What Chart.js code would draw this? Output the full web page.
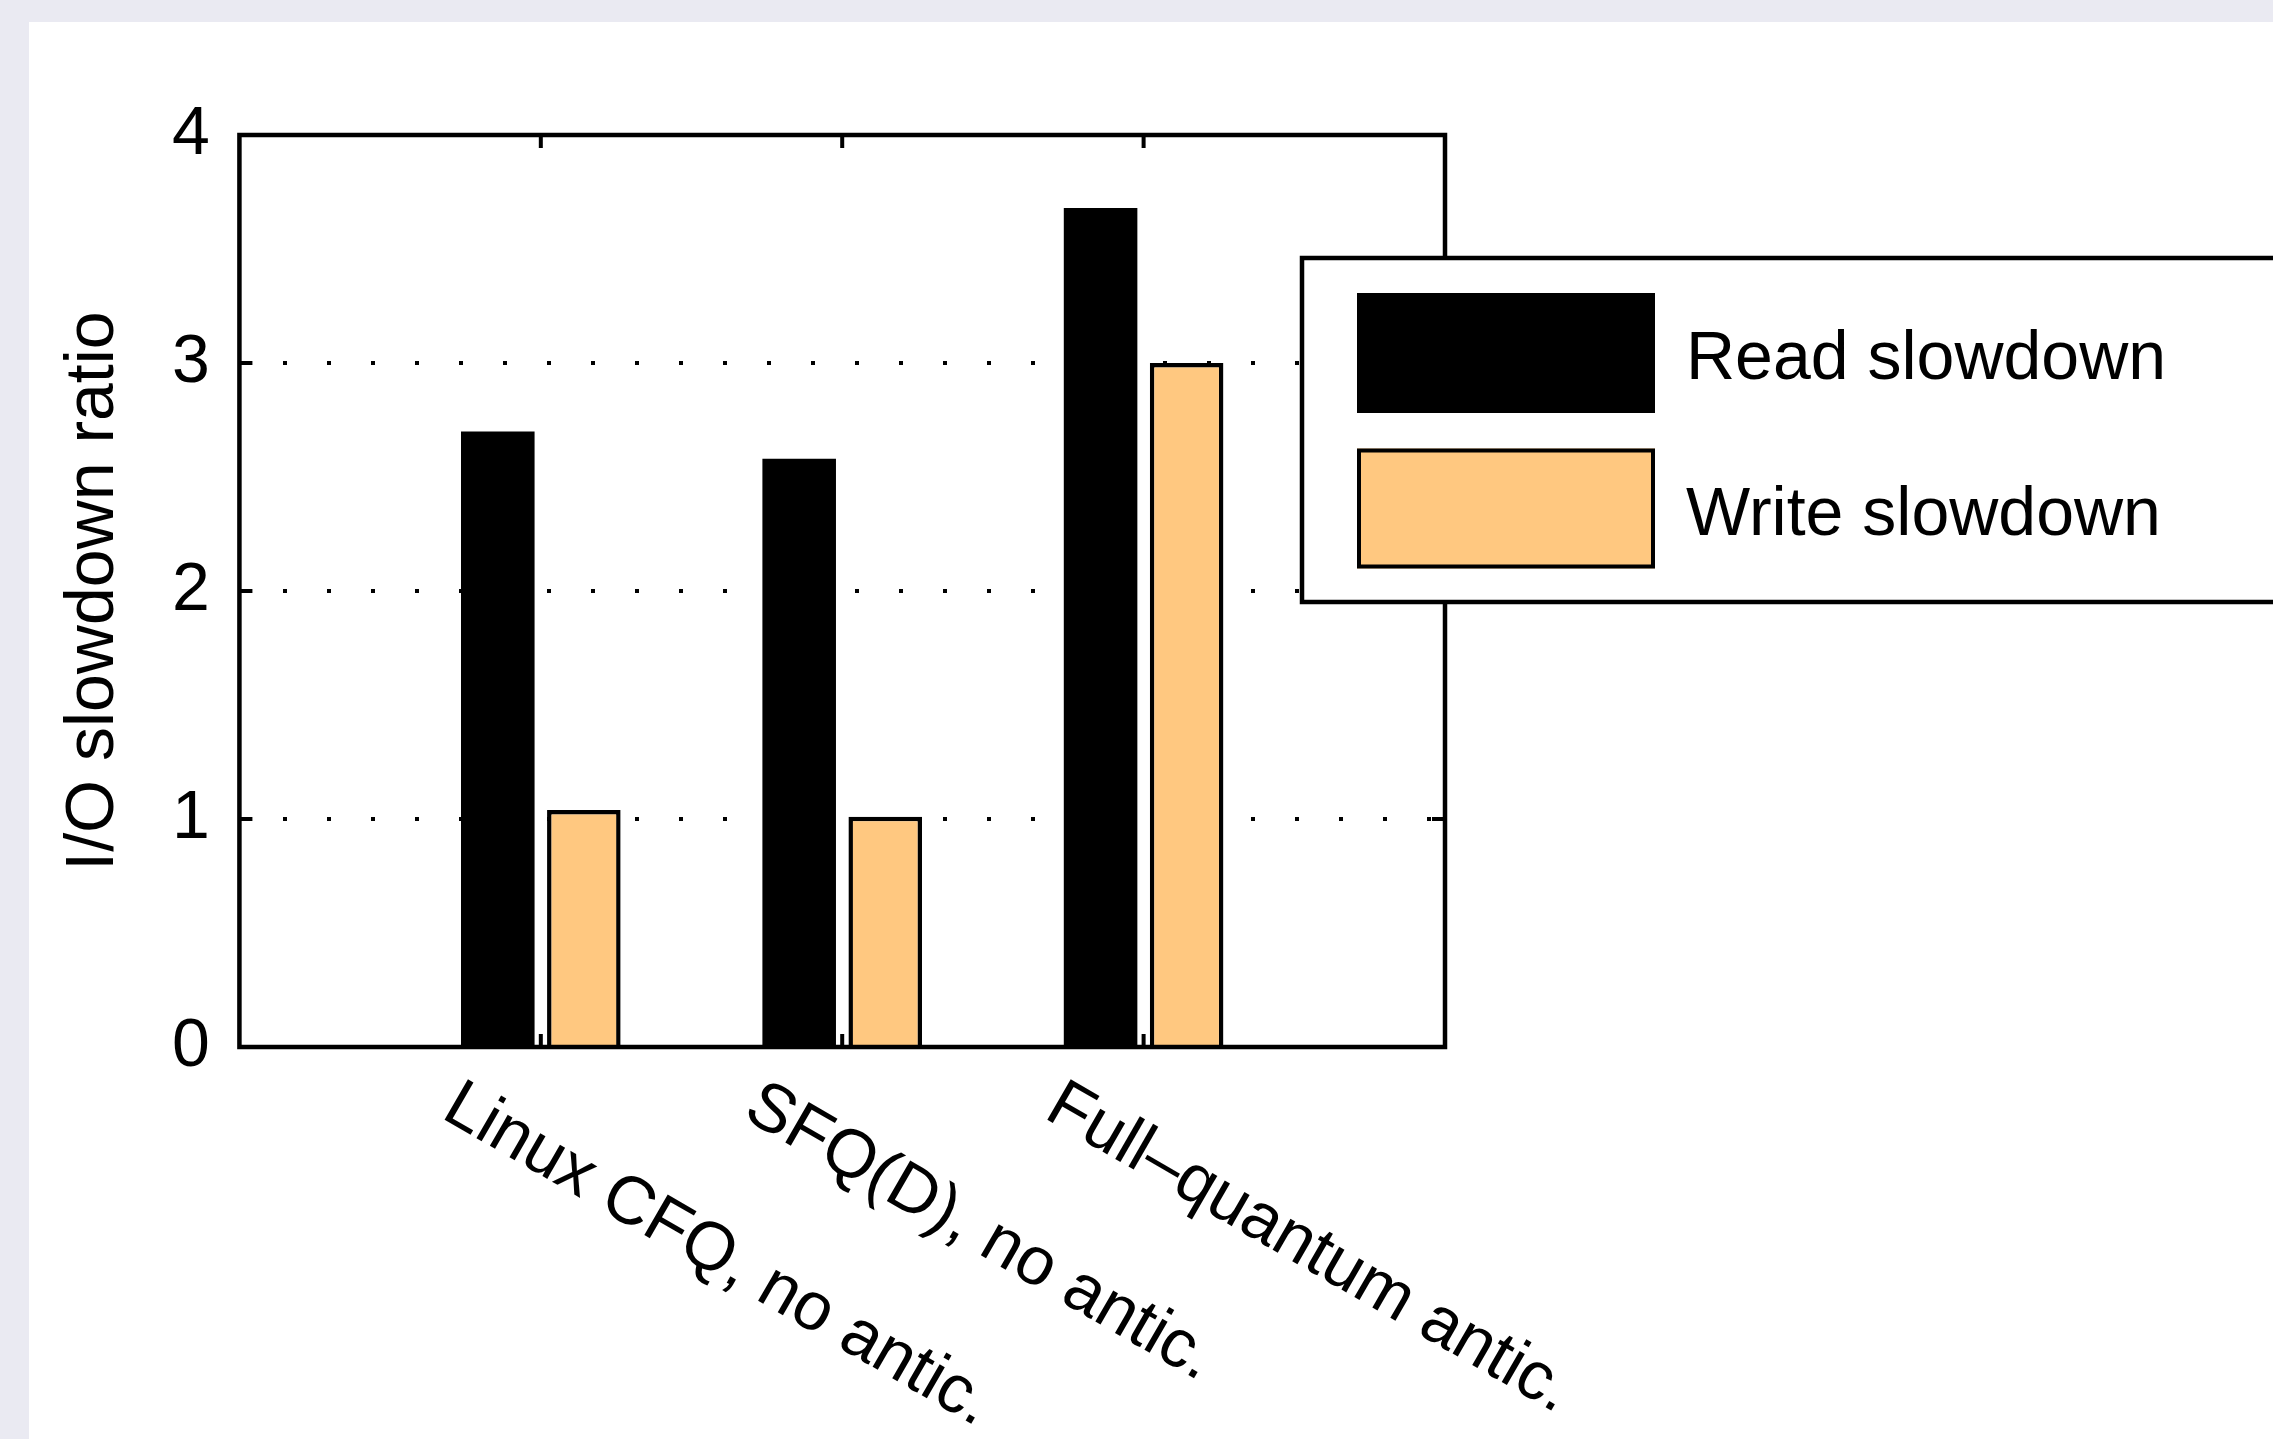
<!DOCTYPE html>
<html>
<head>
<meta charset="utf-8">
<script src="https://cdn.jsdelivr.net/npm/chart.js@4.4.0/dist/chart.umd.min.js"></script>
<style>
  html, body { margin: 0; padding: 0; overflow: hidden; background: #eaeaf2; }
  #wrap { width: 2273px; height: 1439px; }
</style>
</head>
<body>
<div id="wrap"><canvas id="grafica"></canvas></div>
<script>
const categories = ['Linux CFQ, no antic.', 'SFQ(D), no antic.', 'Full\u2013quantum antic.'];
const readSlowdown = [2.70, 2.58, 3.68];
const writeSlowdown = [1.04, 1.01, 3.00];
const yTicks = [0, 1, 2, 3, 4];

const fuente = '"Liberation Sans", Arial, Helvetica, sans-serif';
const ctx = document.getElementById('grafica').getContext('2d');

// fondo lila con el recuadro blanco
const fondo = {
    id: 'fondo',
    beforeDraw(chart) {
        const c = chart.ctx;
        c.save();
        c.fillStyle = '#eaeaf2';
        c.fillRect(0, 0, chart.width, chart.height);
        c.fillStyle = '#ffffff';
        c.fillRect(29, 22, chart.width - 29, chart.height - 22);
        c.restore();
    }
};

// caja del grafico, marcas hacia dentro y etiquetas giradas del eje x
const caja = {
    id: 'caja',
    afterDatasetsDraw(chart) {
        const { ctx, chartArea: a, scales: { x, y } } = chart;
        const largo = 13;
        ctx.save();
        ctx.strokeStyle = '#000';
        ctx.lineWidth = 4;
        ctx.beginPath();
        categories.forEach((c, i) => {
            const px = x.getPixelForValue(i + 1);
            ctx.moveTo(px, a.top);
            ctx.lineTo(px, a.top + largo);
            ctx.moveTo(px, a.bottom);
            ctx.lineTo(px, a.bottom - largo);
        });
        yTicks.forEach(v => {
            const py = y.getPixelForValue(v);
            ctx.moveTo(a.left, py);
            ctx.lineTo(a.left + largo, py);
            ctx.moveTo(a.right, py);
            ctx.lineTo(a.right - largo, py);
        });
        ctx.stroke();
        ctx.lineWidth = 4.5;
        ctx.strokeRect(a.left, a.top, a.right - a.left, a.bottom - a.top);

        ctx.fillStyle = '#000';
        ctx.font = '68px ' + fuente;
        ctx.textAlign = 'left';
        ctx.textBaseline = 'alphabetic';
        categories.forEach((c, i) => {
            const px = x.getPixelForValue(i + 1);
            ctx.save();
            ctx.translate(px - 101, a.bottom + 70);
            ctx.rotate(30 * Math.PI / 180);
            ctx.fillText(c, 0, 0);
            ctx.restore();
        });
        ctx.restore();
    }
};

// leyenda encima del grafico, se sale por la derecha
const leyenda = {
    id: 'leyenda',
    afterDraw(chart) {
        const c = chart.ctx;
        c.save();
        c.fillStyle = '#fff';
        c.strokeStyle = '#000';
        c.lineWidth = 4.5;
        c.fillRect(1302, 258, 1100, 344);
        c.strokeRect(1302, 258, 1100, 344);
        chart.data.datasets.forEach((ds, i) => {
            const top = 293 + i * 155.5;
            c.fillStyle = ds.backgroundColor;
            c.fillRect(1357, top, 298, 120);
            c.lineWidth = 4;
            c.strokeRect(1359, top + 2, 294, 116);
            c.fillStyle = '#000';
            c.font = '68px ' + fuente;
            c.textAlign = 'left';
            c.textBaseline = 'alphabetic';
            c.fillText(ds.label, 1686, top + 86);
        });
        c.restore();
    }
};

const config = {
    type: 'bar',
    data: {
        labels: ['', ...categories, ''],
        datasets: [
            {
                label: 'Read slowdown',
                data: [null, ...readSlowdown, null],
                backgroundColor: '#000000',
                borderColor: '#000000',
                borderWidth: 0,
                categoryPercentage: 0.571,
                barPercentage: 0.855
            },
            {
                label: 'Write slowdown',
                data: [null, ...writeSlowdown, null],
                backgroundColor: '#ffc880',
                borderColor: '#000000',
                borderWidth: 4.5,
                categoryPercentage: 0.571,
                barPercentage: 0.855
            }
        ]
    },
    options: {
        responsive: true,
        maintainAspectRatio: false,
        animation: false,
        devicePixelRatio: 1,
        layout: { padding: { left: 49, top: 135, right: 828, bottom: 392 } },
        plugins: { legend: { display: false }, tooltip: { enabled: false } },
        scales: {
            x: { display: false, offset: false },
            y: {
                min: 0,
                max: 4,
                ticks: { stepSize: 1, padding: 29.5, color: '#000', font: { family: fuente, size: 68 } },
                grid: { color: '#000', lineWidth: 4, drawTicks: false },
                border: { display: false, dash: [4, 40] },
                title: {
                    display: true,
                    text: 'I/O slowdown ratio',
                    color: '#000',
                    font: { family: fuente, size: 68 },
                    padding: { top: 4, bottom: 8 }
                }
            }
        }
    },
    plugins: [fondo, caja, leyenda]
};

const myChart = new Chart(ctx, config);
</script>
</body>
</html>
